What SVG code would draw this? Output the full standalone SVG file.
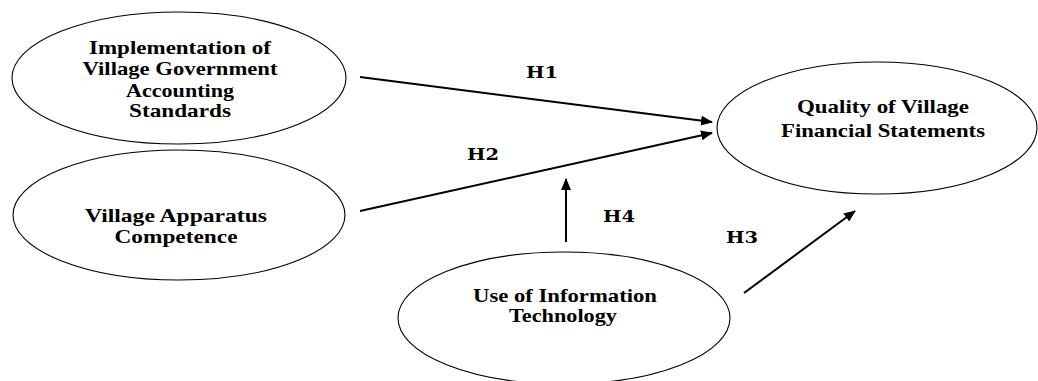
<svg xmlns="http://www.w3.org/2000/svg" width="1038" height="381" viewBox="0 0 1038 381">
<style>
.node ellipse{fill:#fff;stroke:#000;stroke-width:1.1}
.node text{font-family:"Liberation Serif","Times New Roman",serif;font-weight:bold;font-size:19px;fill:#000;text-anchor:middle}
.conn line{stroke:#000;stroke-width:2}
.lbl{font-family:"DejaVu Serif",serif;font-weight:bold;font-size:17px;fill:#000;text-anchor:middle}
</style>
<defs>
<marker id="ah" viewBox="0 0 12 10" refX="11" refY="5" markerWidth="12" markerHeight="10" markerUnits="userSpaceOnUse" orient="auto">
<path d="M0,0 L12,5 L0,10 Z" fill="#000"/>
</marker>
</defs>
<rect width="1038" height="381" fill="#fff"/>
<g id="n1" class="node">
<ellipse cx="179" cy="78" rx="167" ry="66"/>
<text x="180" y="54" textLength="182" lengthAdjust="spacingAndGlyphs">Implementation of</text>
<text x="180" y="75" textLength="195" lengthAdjust="spacingAndGlyphs">Village Government</text>
<text x="180" y="97" textLength="108" lengthAdjust="spacingAndGlyphs">Accounting</text>
<text x="180" y="117" textLength="102" lengthAdjust="spacingAndGlyphs">Standards</text>
</g>
<g id="n2" class="node">
<ellipse cx="179" cy="215" rx="166" ry="65"/>
<text x="176" y="222" textLength="182" lengthAdjust="spacingAndGlyphs">Village Apparatus</text>
<text x="176" y="243" textLength="123" lengthAdjust="spacingAndGlyphs">Competence</text>
</g>
<g id="n3" class="node">
<ellipse cx="877" cy="128" rx="160" ry="66"/>
<text x="883" y="113" textLength="172" lengthAdjust="spacingAndGlyphs">Quality of Village</text>
<text x="883" y="137" textLength="204" lengthAdjust="spacingAndGlyphs">Financial Statements</text>
</g>
<g id="n4" class="node">
<ellipse cx="564" cy="318" rx="166" ry="66"/>
<text x="565" y="302" textLength="184" lengthAdjust="spacingAndGlyphs">Use of Information</text>
<text x="563" y="322" textLength="108" lengthAdjust="spacingAndGlyphs">Technology</text>
</g>
<g id="connectors" class="conn">
<line x1="360" y1="77" x2="712" y2="122" marker-end="url(#ah)"/>
<line x1="360" y1="211" x2="712" y2="133" marker-end="url(#ah)"/>
<line x1="566" y1="242" x2="566" y2="179" marker-end="url(#ah)"/>
<line x1="744" y1="293" x2="855" y2="211" marker-end="url(#ah)"/>
<text class="lbl" x="542" y="78" textLength="32" lengthAdjust="spacingAndGlyphs">H1</text>
<text class="lbl" x="483" y="160" textLength="32" lengthAdjust="spacingAndGlyphs">H2</text>
<text class="lbl" x="619" y="222" textLength="32" lengthAdjust="spacingAndGlyphs">H4</text>
<text class="lbl" x="742" y="243" textLength="32" lengthAdjust="spacingAndGlyphs">H3</text>
</g>
</svg>
